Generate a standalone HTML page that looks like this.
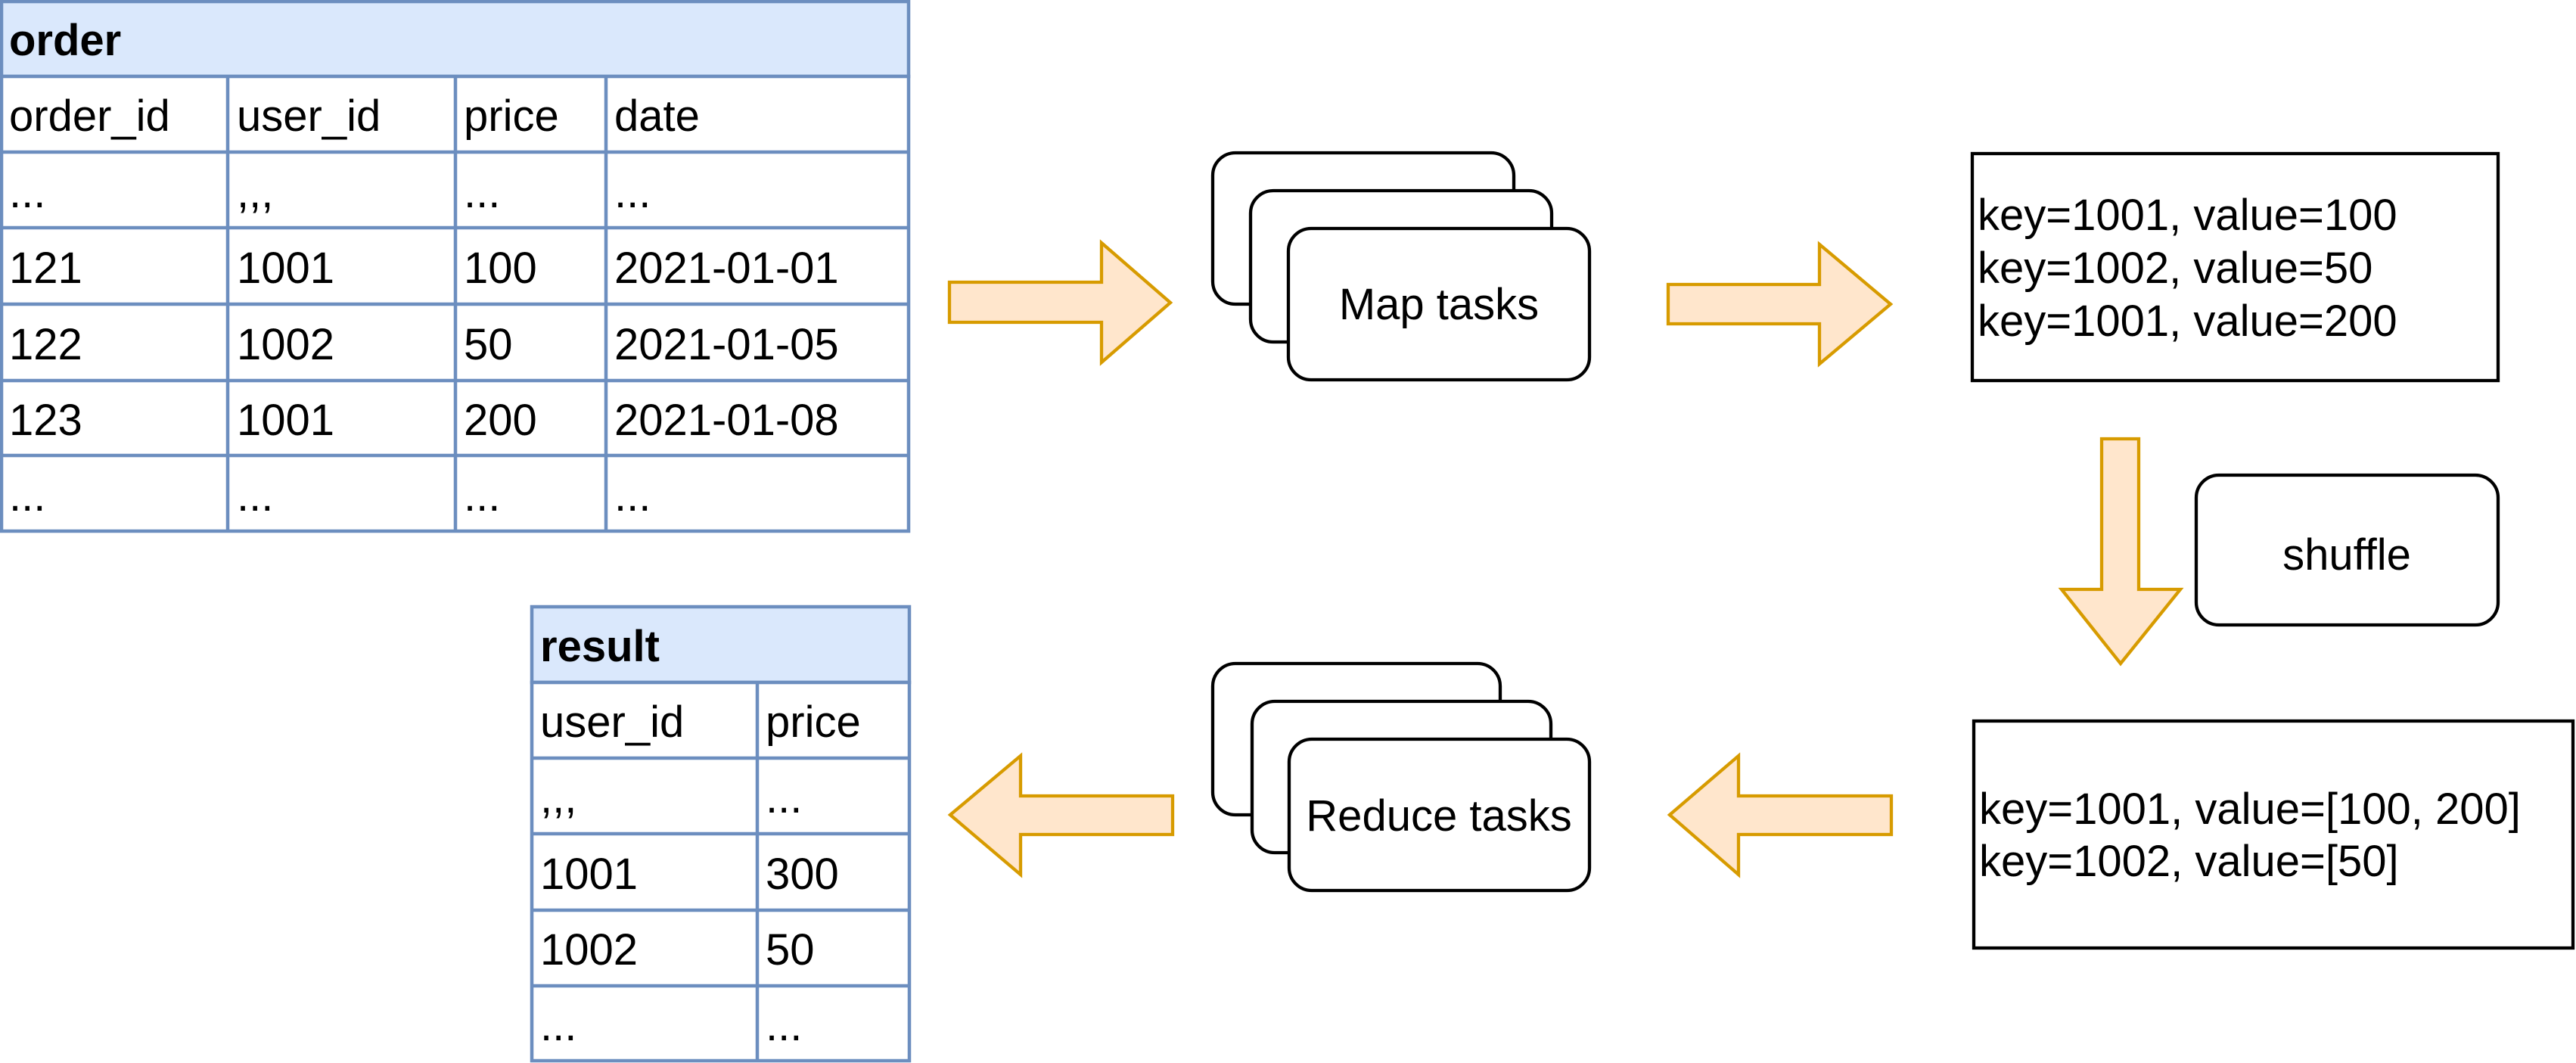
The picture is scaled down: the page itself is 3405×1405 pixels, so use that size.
<!DOCTYPE html>
<html><head><meta charset="utf-8"><style>
html,body{margin:0;padding:0;background:#fff;}
svg{display:block;}
text{font-family:"Liberation Sans",Arial,sans-serif;font-size:58px;fill:#000;}
</style></head><body>
<svg width="3405" height="1405" viewBox="0 0 3405 1405" xmlns="http://www.w3.org/2000/svg">
<g stroke="#6c8ebf" stroke-width="4.5">
<rect x="2" y="2" width="1199" height="99" fill="#dae8fc"/>
<rect x="2" y="101" width="1199" height="601" fill="#fff"/>
<line x1="2" y1="201" x2="1201" y2="201"/>
<line x1="2" y1="301" x2="1201" y2="301"/>
<line x1="2" y1="402" x2="1201" y2="402"/>
<line x1="2" y1="503" x2="1201" y2="503"/>
<line x1="2" y1="602" x2="1201" y2="602"/>
<line x1="301" y1="101" x2="301" y2="702"/>
<line x1="602" y1="101" x2="602" y2="702"/>
<line x1="801" y1="101" x2="801" y2="702"/>
</g>
<text x="12" y="73" font-weight="bold">order</text>
<g>
<text x="12" y="173">order_id</text><text x="313" y="173">user_id</text><text x="613" y="173">price</text><text x="812" y="173">date</text>
<text x="12" y="274">...</text><text x="313" y="274">,,,</text><text x="613" y="274">...</text><text x="812" y="274">...</text>
<text x="12" y="374">121</text><text x="313" y="374">1001</text><text x="613" y="374">100</text><text x="812" y="374">2021-01-01</text>
<text x="12" y="475">122</text><text x="313" y="475">1002</text><text x="613" y="475">50</text><text x="812" y="475">2021-01-05</text>
<text x="12" y="575">123</text><text x="313" y="575">1001</text><text x="613" y="575">200</text><text x="812" y="575">2021-01-08</text>
<text x="12" y="675">...</text><text x="313" y="675">...</text><text x="613" y="675">...</text><text x="812" y="675">...</text>
</g>

<g stroke="#6c8ebf" stroke-width="4.5">
<rect x="703" y="802" width="499" height="100" fill="#dae8fc"/>
<rect x="703" y="902" width="499" height="500" fill="#fff"/>
<line x1="703" y1="1002" x2="1202" y2="1002"/>
<line x1="703" y1="1102" x2="1202" y2="1102"/>
<line x1="703" y1="1203" x2="1202" y2="1203"/>
<line x1="703" y1="1303" x2="1202" y2="1303"/>
<line x1="1001" y1="902" x2="1001" y2="1402"/>
</g>
<text x="714" y="874" font-weight="bold">result</text>
<text x="714" y="974">user_id</text><text x="1012" y="974">price</text>
<text x="714" y="1074">,,,</text><text x="1012" y="1074">...</text>
<text x="714" y="1175">1001</text><text x="1012" y="1175">300</text>
<text x="714" y="1275">1002</text><text x="1012" y="1275">50</text>
<text x="714" y="1375">...</text><text x="1012" y="1375">...</text>

<g fill="#ffe6cc" stroke="#d79b00" stroke-width="4.3" stroke-linejoin="miter">
<polygon points="1255,373 1456,373 1456,321 1547,400 1456,479 1456,426 1255,426"/>
<polygon points="2205,376 2405,376 2405,323 2499,402 2405,481 2405,428 2205,428"/>
<polygon points="2778,580 2827,580 2827,779 2882,779 2803,877 2725,779 2778,779"/>
<polygon points="2500,1052 2298,1052 2298,999 2207,1077 2298,1156 2298,1103 2500,1103"/>
<polygon points="1550,1052 1349,1052 1349,999 1256,1077 1349,1156 1349,1103 1550,1103"/>
</g>

<g fill="#fff" stroke="#000" stroke-width="4.3">
<rect x="1603" y="202" width="398" height="200" rx="30"/>
<rect x="1653" y="252" width="398" height="200" rx="30"/>
<rect x="1703" y="302" width="398" height="200" rx="30"/>
<rect x="2607" y="203" width="695" height="300"/>
<rect x="2903" y="628" width="399" height="198" rx="30"/>
<rect x="1603" y="877" width="380" height="200" rx="30"/>
<rect x="1655" y="927" width="395" height="200" rx="30"/>
<rect x="1704" y="977" width="397" height="200" rx="30"/>
<rect x="2609" y="953" width="792" height="300"/>
</g>
<text x="1902" y="422" text-anchor="middle">Map tasks</text>
<text x="3102" y="753" text-anchor="middle">shuffle</text>
<text x="1902" y="1098" text-anchor="middle">Reduce tasks</text>
<text x="2614" y="304">key=1001, value=100</text>
<text x="2614" y="374">key=1002, value=50</text>
<text x="2614" y="444">key=1001, value=200</text>
<text x="2616" y="1089">key=1001, value=[100, 200]</text>
<text x="2616" y="1158">key=1002, value=[50]</text>
</svg>
</body></html>
